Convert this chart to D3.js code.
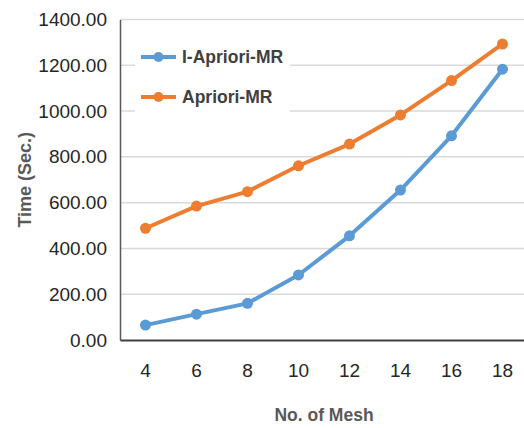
<!DOCTYPE html>
<html>
<head>
<meta charset="utf-8">
<script src="https://cdn.jsdelivr.net/npm/d3@7"></script>
<style>
  body { margin: 0; background: #fff; }
  svg text { font-family: "Liberation Sans", Arial, sans-serif; }
</style>
</head>
<body>
<script>
var meshes = [4, 6, 8, 10, 12, 14, 16, 18];
var iApriori = [65, 113, 160, 284, 455, 655, 892, 1183];
var apriori = [488, 585, 648, 761, 856, 983, 1133, 1293];
var yTicks = [0, 200, 400, 600, 800, 1000, 1200, 1400];
var seriesNames = ["I-Apriori-MR", "Apriori-MR"];
var seriesColors = ["#5b9bd5", "#ed7d31"];

var width = 524, height = 428;
var margin = {top: 19.5, right: -4, bottom: 88, left: 120};

var svg = d3.select("body").append("svg")
    .attr("width", width)
    .attr("height", height);

var x = d3.scaleBand()
    .domain(meshes)
    .range([margin.left, width - margin.right]);

var y = d3.scaleLinear()
    .domain([0, 1400])
    .range([height - margin.bottom, margin.top]);

// gridlines
svg.append("g")
  .selectAll("line")
  .data(yTicks.slice(1))
  .enter().append("line")
    .attr("x1", margin.left)
    .attr("x2", width)
    .attr("y1", function(d) { return y(d); })
    .attr("y2", function(d) { return y(d); })
    .style("stroke", "#d9d9d9")
    .style("stroke-width", 1.5);

// y axis
var yAxis = svg.append("g")
    .attr("transform", "translate(" + margin.left + ",0)")
    .call(d3.axisLeft(y).tickValues(yTicks).tickFormat(d3.format(".2f")).tickSize(0).tickPadding(13));
yAxis.select(".domain").style("stroke", "#595959").style("stroke-width", 1.5);
yAxis.selectAll("text").style("font-size", "19px").style("fill", "#262626");

// x axis
var xAxis = svg.append("g")
    .attr("transform", "translate(0," + y(0) + ")")
    .call(d3.axisBottom(x).tickSize(0).tickPadding(24));
xAxis.select(".domain").style("stroke", "#404040").style("stroke-width", 2);
xAxis.selectAll("text").style("font-size", "19px").style("fill", "#262626");

// axis titles
svg.append("text")
    .attr("x", (margin.left + width - margin.right) / 2)
    .attr("y", 415)
    .attr("dy", "0.35em")
    .attr("text-anchor", "middle")
    .style("font-size", "17.5px")
    .style("font-weight", "bold")
    .style("fill", "#595959")
    .text("No. of Mesh");

svg.append("text")
    .attr("transform", "translate(25," + (y(700)) + ") rotate(-90)")
    .attr("dy", "0.35em")
    .attr("text-anchor", "middle")
    .style("font-size", "18px")
    .style("font-weight", "bold")
    .style("fill", "#595959")
    .text("Time (Sec.)");

// lines
var line = d3.line()
    .x(function(d, i) { return x(meshes[i]) + x.bandwidth() / 2; })
    .y(function(d) { return y(d); });

[iApriori, apriori].forEach(function(vals, k) {
  var g = svg.append("g");
  g.append("path")
      .datum(vals)
      .attr("d", line)
      .style("fill", "none")
      .style("stroke", seriesColors[k])
      .style("stroke-width", 4)
      .style("stroke-linejoin", "round");
  g.selectAll("circle")
      .data(vals)
      .enter().append("circle")
      .attr("cx", function(d, i) { return x(meshes[i]) + x.bandwidth() / 2; })
      .attr("cy", function(d) { return y(d); })
      .attr("r", 5.5)
      .style("fill", seriesColors[k]);
});

// legend
var legend = svg.append("g");
legend.append("rect")
    .attr("x", 135).attr("y", 33)
    .attr("width", 155).attr("height", 90)
    .style("fill", "#fff");

var item = legend.selectAll("g.item")
    .data(seriesNames)
    .enter().append("g")
    .attr("class", "item")
    .attr("transform", function(d, i) { return "translate(0," + (57 + i * 40) + ")"; });
item.append("line")
    .attr("x1", 141).attr("x2", 176)
    .style("stroke", function(d, i) { return seriesColors[i]; })
    .style("stroke-width", 4);
item.append("circle")
    .attr("cx", 158.5).attr("r", 5)
    .style("fill", function(d, i) { return seriesColors[i]; });
item.append("text")
    .attr("x", 182)
    .attr("dy", "0.35em")
    .style("font-size", "17.5px")
    .style("font-weight", "bold")
    .style("fill", "#404040")
    .text(function(d) { return d; });
</script>
</body>
</html>
